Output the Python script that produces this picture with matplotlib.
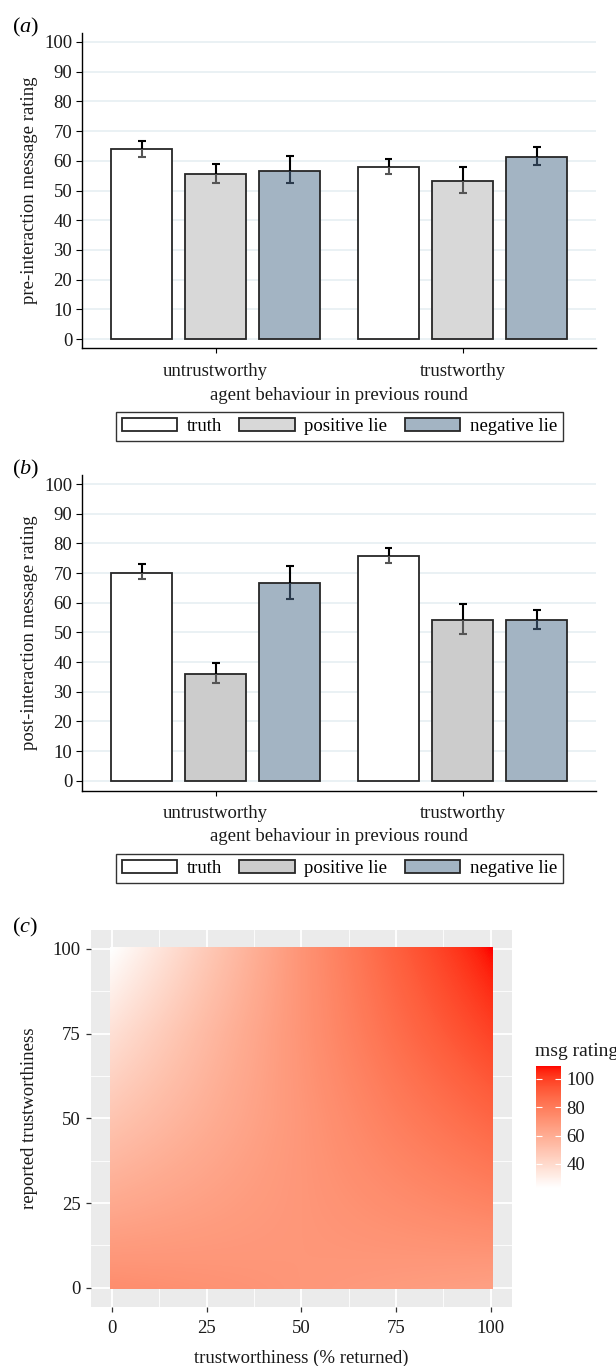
import numpy as np
import matplotlib
matplotlib.use("Agg")
import matplotlib.pyplot as plt
from matplotlib.colors import ListedColormap
from matplotlib.patches import Rectangle

plt.rcParams['font.family'] = ['Liberation Serif', 'DejaVu Serif']
plt.rcParams['mathtext.fontset'] = 'custom'
plt.rcParams['mathtext.it'] = 'Liberation Serif:italic'
plt.rcParams['mathtext.rm'] = 'Liberation Serif'

# ---------------- data ----------------
groups = ["untrustworthy", "trustworthy"]
series = ["truth", "positive lie", "negative lie"]

# panel (a) pre-interaction message rating
a_truth = [63.9, 58.0]
a_truth_lo = [61.4, 55.6]
a_truth_hi = [66.8, 60.7]
a_pos = [55.6, 53.3]
a_pos_lo = [52.6, 49.3]
a_pos_hi = [58.8, 57.8]
a_neg = [56.7, 61.4]
a_neg_lo = [52.4, 58.6]
a_neg_hi = [61.6, 64.6]

# panel (b) post-interaction message rating
b_truth = [70.2, 75.7]
b_truth_lo = [67.9, 73.4]
b_truth_hi = [73.0, 78.4]
b_pos = [36.1, 54.2]
b_pos_lo = [33.1, 49.4]
b_pos_hi = [39.6, 59.7]
b_neg = [66.6, 54.2]
b_neg_lo = [61.2, 51.2]
b_neg_hi = [72.5, 57.5]

# panel (c) msg rating surface, sampled on a grid
c_x = [0, 25, 50, 75, 100]          # trustworthiness (% returned)
c_y = [0, 25, 50, 75, 100]          # reported trustworthiness
c_rating = [
    [73.0, 71.0, 69.0, 67.0, 65.0],
    [61.0, 65.0, 69.0, 73.0, 77.0],
    [49.0, 59.0, 69.0, 79.0, 88.0],
    [37.0, 54.0, 70.0, 85.0, 99.0],
    [23.0, 47.0, 70.0, 90.0, 109.0],
]
c_cbar_ticks = [40, 60, 80, 100]

# ---------------- helpers ----------------
W, H = 616, 1366
FS = 13.5
fig = plt.figure(figsize=(W / 100, H / 100), dpi=100)


def fx(px):
    return px / W


def fy(py):
    return 1 - py / H


def lab_cmap(c0, c1, n=256):
    def s2l(c):
        c = np.asarray(c, float)
        return np.where(c <= 0.04045, c / 12.92, ((c + 0.055) / 1.055) ** 2.4)

    def l2s(c):
        c = np.clip(c, 0, 1)
        return np.where(c <= 0.0031308, 12.92 * c, 1.055 * c ** (1 / 2.4) - 0.055)

    M = np.array([[0.4124, 0.3576, 0.1805],
                  [0.2126, 0.7152, 0.0722],
                  [0.0193, 0.1192, 0.9505]])
    wp = np.array([0.95047, 1.0, 1.08883])

    def f(t):
        d = 6 / 29
        return np.where(t > d ** 3, np.cbrt(t), t / (3 * d * d) + 4 / 29)

    def finv(t):
        d = 6 / 29
        return np.where(t > d, t ** 3, 3 * d * d * (t - 4 / 29))

    def to_lab(c):
        xyz = M @ s2l(c) / wp
        fx_, fy_, fz_ = f(xyz)
        return np.array([116 * fy_ - 16, 500 * (fx_ - fy_), 200 * (fy_ - fz_)])

    def from_lab(lab):
        L, a, b = lab
        fy_ = (L + 16) / 116
        xyz = np.array([finv(fy_ + a / 500), finv(fy_), finv(fy_ - b / 200)]) * wp
        return l2s(np.linalg.inv(M) @ xyz)

    l0, l1 = to_lab(c0), to_lab(c1)
    cols = [np.clip(from_lab(l0 + (l1 - l0) * t), 0, 1) for t in np.linspace(0, 1, n)]
    return ListedColormap(cols)


def bar_panel(rect, vals, los, his, colors, ylim, ylabel, label_y, legend_y,
              xt_y, xl_y, panel_lbl, panel_lbl_y):
    ax = fig.add_axes(rect)
    x = np.arange(len(groups))
    offsets = [-0.3, 0.0, 0.3]
    width = 0.247
    lower_cols = ['#555555', '#555555', '#2a3a4c']
    handles = []
    for i in range(3):
        xp = x + offsets[i]
        v = np.array(vals[i])
        b = ax.bar(xp, v, width=width, facecolor=colors[i], edgecolor='#262626',
                   linewidth=1.3, zorder=3, label=series[i])
        handles.append(b)
        cw = 0.016
        ax.vlines(xp, v, his[i], color='black', lw=1.5, zorder=4)
        ax.vlines(xp, los[i], v, color=lower_cols[i], lw=1.5, zorder=4)
        ax.hlines(his[i], xp - cw, xp + cw, color='black', lw=1.5, zorder=4)
        ax.hlines(los[i], xp - cw, xp + cw, color=lower_cols[i], lw=1.5, zorder=4)
    ax.set_xlim(-0.54, 1.54)
    ax.set_ylim(*ylim)
    ax.set_yticks(range(0, 101, 10))
    ax.set_xticks(x)
    ax.set_xticklabels([])
    ax.yaxis.grid(True, color='#EAF1F4', lw=1.4)
    ax.set_axisbelow(True)
    for s in ['top', 'right']:
        ax.spines[s].set_visible(False)
    for s in ['left', 'bottom']:
        ax.spines[s].set_color('black')
        ax.spines[s].set_linewidth(1.0)
    ax.tick_params(axis='y', length=4, width=0.8, pad=3.2, labelsize=FS,
                   labelcolor='#1a1a1a')
    ax.tick_params(axis='x', length=3.6, width=0.8)
    for g, xv in zip(groups, x):
        px = 82.3 + (xv + 0.54) * (513.7 / 2.08)
        fig.text(fx(px), fy(xt_y), g, ha='center', va='center', fontsize=FS,
                 color='#1a1a1a')
    fig.text(fx(339), fy(xl_y), 'agent behaviour in previous round',
             ha='center', va='center', fontsize=FS, color='#1a1a1a')
    fig.text(fx(30), fy(label_y), ylabel, rotation=90, ha='center', va='center',
             fontsize=FS, color='#1a1a1a')
    fig.text(fx(12), fy(panel_lbl_y), panel_lbl, ha='left', va='center', fontsize=16)
    leg = fig.legend(handles=handles, labels=series, loc='center',
                     bbox_to_anchor=(fx(339.3), fy(legend_y)), ncol=3,
                     frameon=True, fancybox=False, framealpha=1,
                     edgecolor='#333333', fontsize=FS, handlelength=2.95,
                     handleheight=0.7, handletextpad=0.5, columnspacing=0.95,
                     borderpad=0.33, borderaxespad=0)
    leg.get_frame().set_linewidth(1.0)
    return ax


bar_panel([fx(82.3), fy(348), 513.7 / W, 315 / H],
          [a_truth, a_pos, a_neg], [a_truth_lo, a_pos_lo, a_neg_lo],
          [a_truth_hi, a_pos_hi, a_neg_hi],
          ['#ffffff', '#d8d8d8', '#a3b4c3'], (-3.03, 103.03),
          'pre-interaction message rating', 190.5, 426.5, 371, 395,
          r'($\mathit{a}$)', 27)

bar_panel([fx(82.3), fy(790.7), 513.7 / W, 315.7 / H],
          [b_truth, b_pos, b_neg], [b_truth_lo, b_pos_lo, b_neg_lo],
          [b_truth_hi, b_pos_hi, b_neg_hi],
          ['#ffffff', '#cccccc', '#a3b4c3'], (-3.37, 103.1),
          'post-interaction message rating', 633, 868.3, 813.3, 836.7,
          r'($\mathit{b}$)', 469)

# ---------------- panel c ----------------
axc = fig.add_axes([fx(91), fy(1306.5), 420.7 / W, 376.3 / H])
axc.set_facecolor('#EBEBEB')
Z = np.array(c_rating)
cmap = lab_cmap((1, 1, 1), (1, 0, 0))
step = c_x[1] - c_x[0]
im = axc.imshow(Z, origin='lower', cmap=cmap, interpolation='bilinear',
                interpolation_stage='data', aspect='auto',
                extent=(c_x[0] - step / 2, c_x[-1] + step / 2,
                        c_y[0] - step / 2, c_y[-1] + step / 2),
                vmin=Z.min(), vmax=Z.max(), zorder=2)
clip = Rectangle((-0.5, -0.5), 101, 101, transform=axc.transData)
im.set_clip_path(clip)
axc.set_xlim(-5.55, 105.55)
axc.set_ylim(-5.55, 105.55)
axc.set_xticks(c_x)
axc.set_yticks(c_y)
axc.set_xticks([12.5, 37.5, 62.5, 87.5], minor=True)
axc.set_yticks([12.5, 37.5, 62.5, 87.5], minor=True)
axc.grid(True, which='major', color='white', lw=1.3)
axc.grid(True, which='minor', color='white', lw=0.6)
axc.set_axisbelow(True)
for s in axc.spines.values():
    s.set_visible(False)
axc.tick_params(which='major', length=3.8, width=0.9, color='#333333',
                labelsize=FS, labelcolor='#1a1a1a')
axc.tick_params(axis='x', which='major', pad=6)
axc.tick_params(axis='y', which='major', pad=3.5)
axc.tick_params(which='minor', length=0)
fig.text(fx(30), fy(1118), 'reported trustworthiness', rotation=90,
         ha='center', va='center', fontsize=FS, color='#1a1a1a')
fig.text(fx(301.3), fy(1350), 'trustworthiness (% returned)', ha='center',
         va='top', fontsize=FS, color='#1a1a1a')
fig.text(fx(12), fy(927), r'($\mathit{c}$)', ha='left', va='center', fontsize=16)

cax = fig.add_axes([fx(536), fy(1188), 25 / W, 122 / H])
cb = fig.colorbar(im, cax=cax, ticks=c_cbar_ticks)
cb.outline.set_visible(False)
cax.yaxis.set_ticks_position('both')
cax.tick_params(direction='in', length=4, width=0.8, color='white',
                labelsize=FS, labelcolor='#1a1a1a', pad=4, labelleft=False,
                labelright=True)
fig.text(fx(535.3), fy(1051), 'msg rating', ha='left', va='center', fontsize=14,
         color='#1a1a1a')

fig.savefig('out.png', dpi=100)
